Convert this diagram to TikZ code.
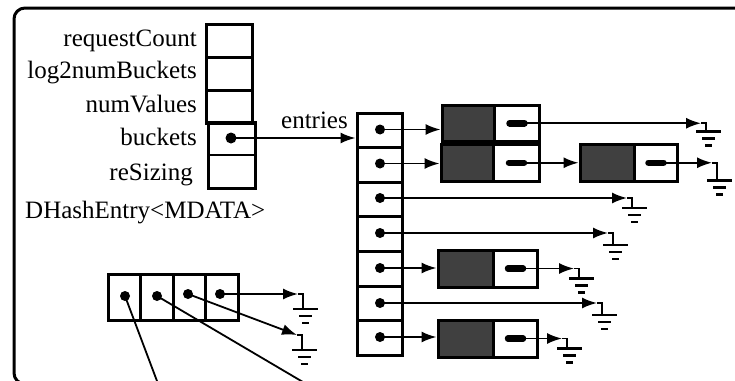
\documentclass[tikz,border=0pt]{standalone}
\usepackage{fontspec}
\setmainfont{Liberation Serif}
\usetikzlibrary{arrows.meta}
\definecolor{boxgray}{HTML}{404040}
\begin{document}
\begin{tikzpicture}[x=1pt,y=-1pt,
  lbl/.style={font=\fontsize{25}{30}\selectfont, inner sep=0pt},
  cell/.style={draw, line width=3pt, inner sep=0pt, minimum width=46pt, minimum height=33pt},
  thincell/.style={draw, line width=1.2pt, inner sep=0pt, minimum width=46pt},
  ecell/.style={draw, line width=3pt, inner sep=0pt, minimum width=45pt, minimum height=34.6pt},
  acell/.style={draw, line width=3pt, inner sep=0pt, minimum width=32.5pt, minimum height=46pt},
  dk/.style={draw, line width=3pt, fill=boxgray, inner sep=0pt},
  lt/.style={draw, line width=3pt, fill=white, inner sep=0pt},
  conn/.style={line width=1.8pt},
  arr/.style={conn, -{Latex[length=15pt,width=11pt]}},
  ptr/.style={line width=6.5pt, line cap=round},
  pics/groundsym/.style={code={
    \draw[conn] (0,0) -- (5,0) -- (5,#1);
    \draw[line width=2.6pt] (-5,#1) -- ++(25,0)
      (1,#1) ++(0,7) -- ++(13,0)
      (4,#1) ++(0,14) -- ++(7,0);
  }}
]
\useasboundingbox (0,0) rectangle (735,380);
\begin{scope}
\clip (0,0) rectangle (735,380);
% frame
\draw[line width=3pt, rounded corners=11pt] (14,8) rectangle (800,384);

% labels
\node[lbl, anchor=east] (lreq) at (197,41) {requestCount};
\node[lbl, anchor=east] (llog) at (197,73) {log2numBuckets};
\node[lbl, anchor=east] (lnum) at (197,104) {numValues};
\node[lbl, anchor=east] (lbk) at (197,137) {buckets};
\node[lbl, anchor=east] (lrs) at (193,175) {reSizing};
\node[lbl, anchor=west] (ltype) at (25,213) {DHashEntry<MDATA>};
\node[lbl, anchor=east] (lent) at (348,120) {entries};

% top stack
\node[cell] (s1) at (229,40.5) {};
\node[cell] (s2) at (229,73.5) {};
\node[cell] (s3) at (229,106.5) {};
\node[thincell, minimum height=32pt] (bk) at (232,139) {};
\node[thincell, minimum height=33pt] (rs) at (232,171.5) {};
\draw[line width=3pt] (bk.north west) rectangle (rs.south east);
\coordinate (bdot) at (231,138);
\fill (bdot) circle (5.5);

% entries column
\foreach \i/\y in {1/130.3,2/164.9,3/199.5,4/234.1,5/268.7,6/303.3,7/337.9}
  \node[ecell] (e\i) at (379.5,\y) {};
\draw[arr] (bdot) -- (bdot -| e1.west);

% entry dots
\foreach \i/\y in {1/129.5,2/163.5,3/198,4/233,5/268,6/303,7/337}{
  \coordinate (r\i) at (380,\y);
  \fill (r\i) circle (5);
}

% data boxes
\node[dk, minimum width=52pt, minimum height=36.5pt] (d1) at (468,123.25) {};
\node[lt, minimum width=45pt, minimum height=36.5pt] (p1) at (516.5,123.25) {};
\node[dk, minimum width=52pt, minimum height=36.5pt] (d2) at (467,162.75) {};
\node[lt, minimum width=46pt, minimum height=36.5pt] (p2) at (516,162.75) {};
\node[dk, minimum width=54pt, minimum height=36.5pt] (d3) at (607,162.75) {};
\node[lt, minimum width=43pt, minimum height=36.5pt] (p3) at (655.5,162.75) {};
\node[dk, minimum width=55pt, minimum height=37pt] (d4) at (465.5,268.5) {};
\node[lt, minimum width=44pt, minimum height=37pt] (p4) at (515,268.5) {};
\node[dk, minimum width=55pt, minimum height=37pt] (d5) at (465.5,338.5) {};
\node[lt, minimum width=44pt, minimum height=37pt] (p5) at (515,338.5) {};

\foreach \p in {p1,p2,p3,p4,p5}
  \draw[ptr] ([xshift=-7pt]\p.center) -- ([xshift=8pt]\p.center);

% ground coordinates
\coordinate (G1) at (701,123.25);
\coordinate (G2) at (712,162.75);
\coordinate (G3) at (627,198);
\coordinate (G4) at (608,233);
\coordinate (G5) at (574,268.5);
\coordinate (G6) at (597,303);
\coordinate (G7) at (562,338.5);
\coordinate (G8) at (298,294);
\coordinate (G9) at (297,335);

% entry connectors
\draw[arr] (r1) -- (r1 -| d1.west);
\draw[arr] (r2) -- (r2 -| d2.west);
\draw[arr] (r3) -- (G3);
\draw[arr] (r4) -- (G4);
\draw[arr] (r5) -- (r5 -| d4.west);
\draw[arr] (r6) -- (G6);
\draw[arr] (r7) -- (r7 -| d5.west);

% chain connectors
\draw[arr] (p1.center) -- (G1);
\draw[arr] (p2.center) -- (p2.center -| d3.west);
\draw[arr] (p3.center) -- (G2);
\draw[arr] (p4.center) -- (G5);
\draw[arr] (p5.center) -- (G7);

% bottom array
\foreach \i/\x in {1/124.25,2/156.75,3/189.25,4/221.75}
  \node[acell] (a\i) at (\x,297) {};
\coordinate (q1) at (125,296);
\coordinate (q2) at (157,296);
\coordinate (q3) at (188,294);
\coordinate (q4) at (220,294);
\foreach \q in {q1,q2,q3,q4} \fill (\q) circle (5);
\coordinate (f1) at (158.5,385);
\coordinate (f2) at (308,385);
\draw[conn] (q1) -- (f1);
\draw[conn] (q2) -- (f2);
\draw[arr] (q3) -- (G9);
\draw[arr] (q4) -- (G8);

% grounds
\pic at (G1) {groundsym=8};
\pic at (G2) {groundsym=18};
\pic at (G3) {groundsym=10};
\pic at (G4) {groundsym=12};
\pic at (G5) {groundsym=10};
\pic at (G6) {groundsym=12};
\pic at (G7) {groundsym=10};
\pic at (G8) {groundsym=15};
\pic at (G9) {groundsym=15};
\end{scope}
\end{tikzpicture}
\end{document}
